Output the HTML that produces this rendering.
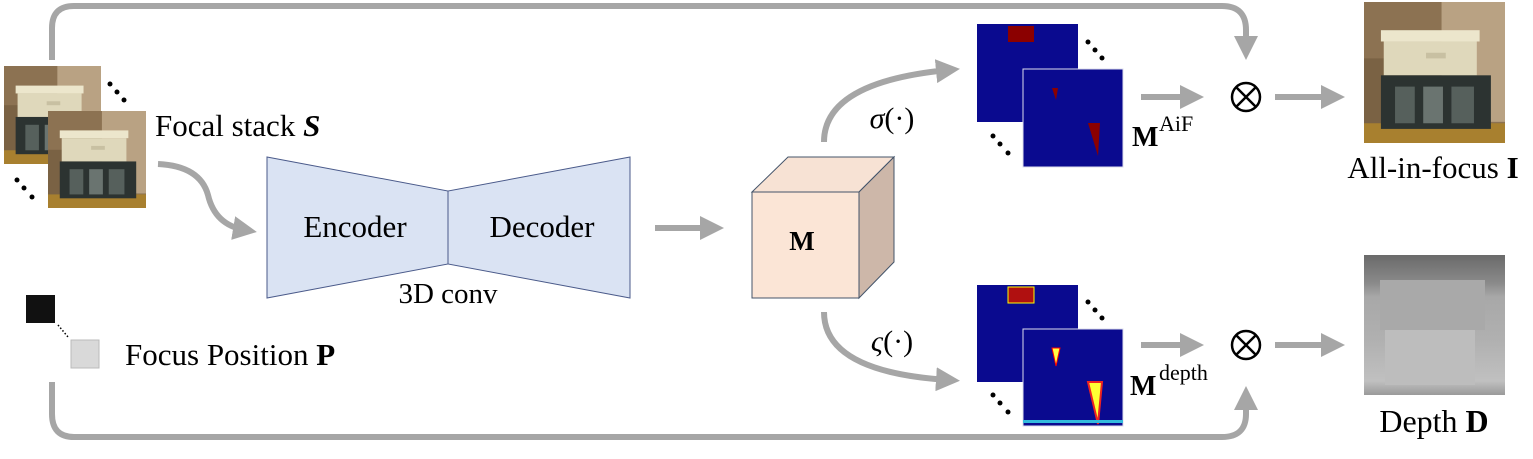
<!DOCTYPE html>
<html><head><meta charset="utf-8"><style>
html,body{margin:0;padding:0;background:#fff;}
svg{display:block;}
text{font-family:"Liberation Serif",serif;fill:#000;}
</style></head><body>
<svg width="1533" height="459" viewBox="0 0 1533 459" xmlns="http://www.w3.org/2000/svg">
<defs>
<marker id="ah" markerWidth="4" markerHeight="4" refX="2" refY="2" orient="auto" markerUnits="strokeWidth">
<path d="M0,0 L4,2 L0,4 Z" fill="#a6a6a6"/></marker>
<symbol id="photo" viewBox="0 0 100 100" preserveAspectRatio="none">
<rect width="100" height="100" fill="#8c7252"/>
<rect x="55" y="0" width="45" height="85" fill="#b9a283"/>
<rect x="0" y="40" width="15" height="50" fill="#7a6244"/>
<rect x="12" y="20" width="70" height="8" fill="#ece6cc"/>
<rect x="14" y="28" width="66" height="24" fill="#dfd8bb"/>
<rect x="44" y="36" width="14" height="4" fill="#c8c0a2"/>
<rect x="0" y="86" width="100" height="14" fill="#a8802f"/>
<rect x="12" y="52" width="78" height="38" fill="#2c3331"/>
<rect x="22" y="60" width="14" height="26" fill="#56605c"/>
<rect x="42" y="60" width="14" height="26" fill="#6a7470"/>
<rect x="62" y="60" width="16" height="26" fill="#56605c"/>
</symbol>
<linearGradient id="dep" x1="0" y1="0" x2="0" y2="1">
<stop offset="0" stop-color="#6a6a6a"/><stop offset="0.2" stop-color="#8a8a8a"/><stop offset="0.3" stop-color="#a8a8a8"/><stop offset="0.6" stop-color="#b0b0b0"/><stop offset="0.9" stop-color="#c0c0c0"/><stop offset="1" stop-color="#9a9a9a"/></linearGradient>
</defs>
<g fill="none" stroke="#a6a6a6" stroke-width="6">
<path d="M52,60 L52,28 Q52,6 74,6 L1222,6 Q1246,6 1246,30 L1246,48" marker-end="url(#ah)"/>
<path d="M52,382 L52,414 Q52,437 74,437 L1222,437 Q1246,437 1246,414 L1246,398" marker-end="url(#ah)"/>
<path d="M158,164 Q200,166 208,195 Q215,225 245,230" marker-end="url(#ah)"/>
<path d="M655,228 L712,228" marker-end="url(#ah)"/>
<path d="M824,142 Q824,82 948,70" marker-end="url(#ah)"/>
<path d="M824,312 Q824,372 948,380" marker-end="url(#ah)"/>
<path d="M1141,97 L1192,97" marker-end="url(#ah)"/>
<path d="M1141,345 L1192,345" marker-end="url(#ah)"/>
<path d="M1275,97 L1333,97" marker-end="url(#ah)"/>
<path d="M1275,345 L1333,345" marker-end="url(#ah)"/>
</g>
<!-- focal stack -->
<use href="#photo" x="4" y="66" width="97" height="98"/>
<use href="#photo" x="48" y="111" width="98" height="97"/>
<g fill="#000"><circle cx="110" cy="84" r="2.5"/><circle cx="117" cy="92" r="2.5"/><circle cx="124" cy="100" r="2.5"/>
<circle cx="17" cy="180" r="2.5"/><circle cx="24" cy="188" r="2.5"/><circle cx="32" cy="197" r="2.5"/></g>
<text x="155" y="136" font-size="31">Focal stack <tspan font-weight="bold" font-style="italic">S</tspan></text>
<!-- focus position -->
<rect x="26" y="295" width="29" height="28" fill="#111"/>
<rect x="71" y="340" width="28" height="28" fill="#d9d9d9" stroke="#bbb"/>
<path d="M58,325 L68,337" stroke="#000" stroke-width="1.5" stroke-dasharray="1.5,2"/>
<text x="125" y="365" font-size="31">Focus Position <tspan font-weight="bold">P</tspan></text>
<!-- encoder decoder -->
<polygon points="267,157 448,191 448,264 267,298" fill="#dae3f3" stroke="#4a5a8a" stroke-width="1"/>
<polygon points="630,157 448,191 448,264 630,298" fill="#dae3f3" stroke="#4a5a8a" stroke-width="1"/>
<text x="355" y="237" font-size="31" text-anchor="middle">Encoder</text>
<text x="542" y="237" font-size="31" text-anchor="middle">Decoder</text>
<text x="448" y="303" font-size="29" text-anchor="middle">3D conv</text>
<!-- cube -->
<polygon points="752,192 788,157 894,157 859,192" fill="#f7e2d4" stroke="#44546a" stroke-width="1"/>
<polygon points="859,192 894,157 894,262 859,298" fill="#cdb7a9" stroke="#44546a" stroke-width="1"/>
<rect x="752" y="192" width="107" height="106" fill="#fbe5d6" stroke="#44546a" stroke-width="1"/>
<text x="802" y="250" font-size="27" font-weight="bold" text-anchor="middle">M</text>
<text x="892" y="128" font-size="30" text-anchor="middle"><tspan font-style="italic">σ</tspan>(·)</text>
<text x="892" y="351" font-size="30" text-anchor="middle"><tspan font-style="italic">ς</tspan>(·)</text>
<!-- AiF maps -->
<rect x="977" y="24" width="101" height="98" fill="#0a0a8f"/>
<rect x="1008" y="26" width="26" height="16" fill="#8b0000"/>
<rect x="1023" y="69" width="100" height="98" fill="#0a0a8f" stroke="#dde" stroke-width="1"/>
<polygon points="1052,88 1058,88 1056,100" fill="#8b0000"/>
<polygon points="1088,123 1100,123 1098,156" fill="#8b0000"/>
<g fill="#000"><circle cx="1088" cy="42" r="2.5"/><circle cx="1095" cy="50" r="2.5"/><circle cx="1102" cy="58" r="2.5"/>
<circle cx="993" cy="136" r="2.5"/><circle cx="1000" cy="144" r="2.5"/><circle cx="1008" cy="153" r="2.5"/>
<circle cx="993" cy="395" r="2.5"/><circle cx="1000" cy="403" r="2.5"/><circle cx="1008" cy="412" r="2.5"/>
<circle cx="1088" cy="302" r="2.5"/><circle cx="1095" cy="310" r="2.5"/><circle cx="1102" cy="318" r="2.5"/></g>
<text x="1132" y="146" font-size="28" font-weight="bold">M</text><text x="1159" y="131" font-size="22">AiF</text>
<!-- depth maps -->
<rect x="977" y="285" width="101" height="97" fill="#0a0a8f"/>
<rect x="1008" y="287" width="26" height="16" fill="#b01010" stroke="#ff0" stroke-width="1"/>
<rect x="1023" y="329" width="100" height="97" fill="#0a0a8f" stroke="#dde" stroke-width="1"/>
<polygon points="1052,348 1060,348 1056,366" fill="#ff4" stroke="#f00"/>
<polygon points="1088,382 1102,382 1098,424" fill="#ff3" stroke="#e22" stroke-width="2"/>
<rect x="1023" y="420" width="100" height="3" fill="#3bd"/>
<text x="1130" y="395" font-size="28" font-weight="bold">M</text><text x="1159" y="380" font-size="22">depth</text>
<!-- otimes -->
<g stroke="#000" stroke-width="2.5" fill="none">
<circle cx="1246" cy="97" r="14"/><path d="M1236,87 L1256,107 M1256,87 L1236,107"/>
<circle cx="1246" cy="345" r="14"/><path d="M1236,335 L1256,355 M1256,335 L1236,355"/>
</g>
<!-- outputs -->
<use href="#photo" x="1364" y="2" width="141" height="141"/>
<text x="1433" y="178" font-size="31" text-anchor="middle">All-in-focus <tspan font-weight="bold">I</tspan></text>
<rect x="1364" y="255" width="141" height="140" fill="url(#dep)"/>
<rect x="1380" y="280" width="105" height="50" fill="#a9a9a9"/>
<rect x="1385" y="330" width="90" height="55" fill="#bdbdbd"/>
<text x="1434" y="432" font-size="32" text-anchor="middle">Depth <tspan font-weight="bold">D</tspan></text>
</svg>
</body></html>
